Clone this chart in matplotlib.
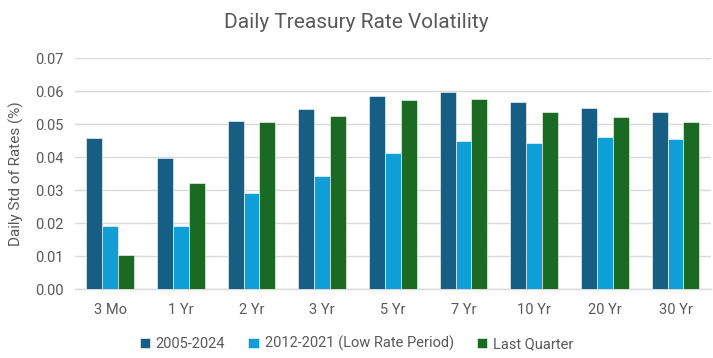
import matplotlib
matplotlib.use("Agg")
import matplotlib.pyplot as plt
import numpy as np

categories = ["3 Mo", "1 Yr", "2 Yr", "3 Yr", "5 Yr", "7 Yr", "10 Yr", "20 Yr", "30 Yr"]
series_names = ["2005-2024", "2012-2021 (Low Rate Period)", "Last Quarter"]
full_period = [0.0460, 0.0397, 0.0511, 0.0545, 0.0587, 0.0597, 0.0569, 0.0551, 0.0538]
low_rate = [0.0193, 0.0193, 0.0293, 0.0342, 0.0413, 0.0449, 0.0444, 0.0461, 0.0457]
last_quarter = [0.0103, 0.0323, 0.0508, 0.0524, 0.0573, 0.0578, 0.0536, 0.0522, 0.0508]
colors = ["#165E83", "#109ED6", "#1A6A23"]

plt.rcParams['font.family'] = ['Roboto', 'DejaVu Sans']
fig = plt.figure(figsize=(7.13, 3.58), dpi=100)
ax = fig.add_axes([0.105, 0.192, 0.892, 0.645])

x = np.arange(len(categories))
w = 0.225
for i, (vals, name) in enumerate(zip([full_period, low_rate, last_quarter], series_names)):
    ax.bar(x + (i - 1) * w, vals, width=w, color=colors[i], label=name,
           edgecolor="white", linewidth=0.4, zorder=3)

ax.set_xlim(-0.5, len(categories) - 0.5)
ax.set_ylim(0, 0.07)
ax.set_yticks(np.arange(0, 0.0701, 0.01))
ax.set_yticklabels([f"{v:.2f}" for v in np.arange(0, 0.0701, 0.01)])
ax.set_xticks(x)
ax.set_xticklabels(categories)
ax.grid(axis="y", color="#D9D9D9", linewidth=1.0, zorder=0)
for s in ["top", "right", "left"]:
    ax.spines[s].set_visible(False)
ax.spines["bottom"].set_color("#D9D9D9")
ax.spines["bottom"].set_linewidth(1.0)
ax.tick_params(axis="both", length=0, labelsize=10.5, labelcolor="#595959", pad=8)
ax.tick_params(axis="x", pad=10)
ax.set_ylabel("Daily Std of Rates (%)", fontsize=11, color="#595959", labelpad=8)

fig.suptitle("Daily Treasury Rate Volatility", fontsize=15, color="#595959", y=0.965)

leg = fig.legend(loc="center", bbox_to_anchor=(0.5, 0.04), ncol=3, frameon=False,
                 fontsize=10.5, handlelength=0.7, handleheight=0.7, handletextpad=0.4,
                 columnspacing=1.6)
for t in leg.get_texts():
    t.set_color("#595959")

fig.savefig("out.png", dpi=100)
